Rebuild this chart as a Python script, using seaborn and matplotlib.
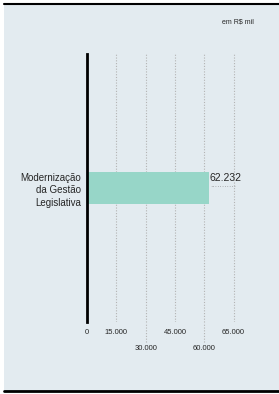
import matplotlib
matplotlib.use("Agg")
import pandas as pd
import seaborn as sns
import matplotlib.pyplot as plt
from matplotlib.patches import Rectangle
from matplotlib.lines import Line2D

categories = ["Modernização\nda Gestão\nLegislativa"]
values = [62232]
value_labels = ["62.232"]
tick_values = [0, 15000, 30000, 45000, 60000, 75000]
tick_labels = ["0", "15.000", "30.000", "45.000", "60.000", "65.000"]
staggered = [30000, 60000]
unit_label = "em R$ mil"

bg = "#e3ebf0"
bar_color = "#97d6c8"
grid_color = "#b3b3b3"

sns.set_style("white")
plt.rcParams["font.family"] = ["Liberation Sans Narrow", "Liberation Sans", "DejaVu Sans"]

W, H = 279, 394
fig = plt.figure(figsize=(W / 100, H / 100), dpi=100)
fig.patch.set_facecolor("white")

# panel background and frame lines
fig.patches.append(Rectangle((4 / W, 3 / H), (W - 4) / W, 387 / H,
                             transform=fig.transFigure, facecolor=bg,
                             edgecolor="none", zorder=-1))
fig.add_artist(Line2D([4 / W, 1], [(H - 4) / H] * 2, color="black", lw=1.5))
fig.add_artist(Line2D([4 / W, 1], [3 / H] * 2, color="black", lw=2))

ax = fig.add_axes([87 / W, 72 / H, 156.3 / W, 268 / H])
ax.set_facecolor("none")

df = pd.DataFrame({"categoria": categories, "valor": values})
sns.barplot(data=df, x="valor", y="categoria", color=bar_color,
            saturation=1, width=0.123, linewidth=0, ax=ax, zorder=3)

ax.set_xlim(0, 80000)
ax.set_ylim(0.5, -0.5)
ax.set_xlabel("")
ax.set_ylabel("")

ax.set_xticks(tick_values)
ax.set_xticklabels(tick_labels, fontsize=5.5)
ax.xaxis.grid(True, color=grid_color, lw=0.8, linestyle=(0, (1, 1.5)))
ax.tick_params(axis="x", length=0, pad=5)
ax.tick_params(axis="y", length=0, pad=4, labelsize=7)
for t in ax.get_yticklabels():
    t.set_linespacing(1.3)

for side in ["top", "right", "bottom"]:
    ax.spines[side].set_visible(False)
ax.spines["left"].set_color("black")
ax.spines["left"].set_linewidth(2)
ax.spines["left"].set_zorder(5)

# longer dotted guides for the staggered labels
for v in staggered:
    ax.axvline(v, ymin=-0.075, ymax=0, clip_on=False, color=grid_color,
               lw=0.8, linestyle=(0, (1, 1.5)))
for v, tick in zip(tick_values, ax.xaxis.get_major_ticks()):
    if v in staggered:
        tick.set_pad(16.5)

ax.annotate(value_labels[0], xy=(values[0], 0), xytext=(1, 7),
            textcoords="offset points", ha="left", va="center", fontsize=7.5)
ax.annotate("·" * 11, xy=(values[0], 0), xytext=(1.5, 0),
            textcoords="offset points", ha="left", va="center",
            fontsize=5, color="#8a8a8a")

fig.text(254 / W, 1 - 22 / H, unit_label, ha="right", va="center", fontsize=5)

fig.savefig("out.png", dpi=100)
